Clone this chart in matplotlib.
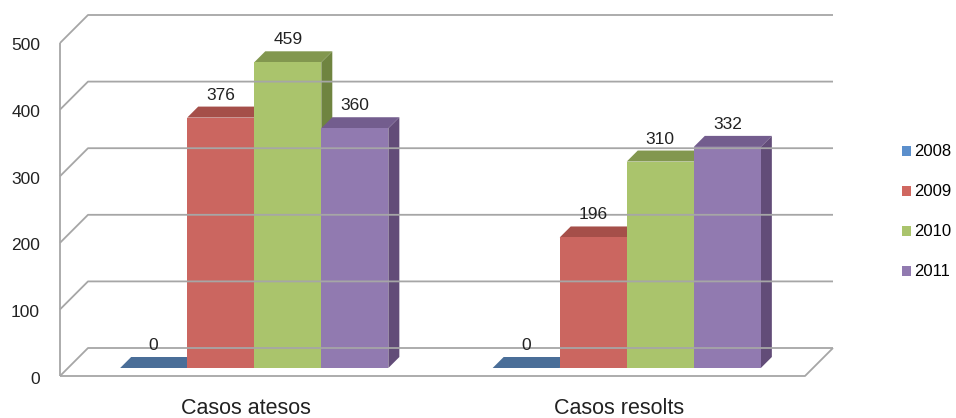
import matplotlib
matplotlib.use("Agg")
from matplotlib import pyplot as plt
from matplotlib.patches import Polygon, Patch

plt.rcParams['font.family'] = ['Liberation Sans', 'DejaVu Sans']

categories = ["Casos atesos", "Casos resolts"]
years = ["2008", "2009", "2010", "2011"]
values = {
    "2008": [0, 0],
    "2009": [376, 196],
    "2010": [459, 310],
    "2011": [360, 332],
}
yticks = [0, 100, 200, 300, 400, 500]

# colours: front, top, side, legend
front_cols = ["#4F7EB3", "#CB6660", "#AAC46C", "#917AB0"]
top_cols = ["#4A6E98", "#A54F49", "#82974F", "#735D8E"]
side_cols = ["#3E5D82", "#8E3F3A", "#6F8440", "#624C78"]
legend_cols = ["#5B8FCC", "#D06760", "#AAC46C", "#917AB0"]

W, H = 956, 418
fig = plt.figure(figsize=(W / 100, H / 100), dpi=100)
# axes = front plane of the 3d box
ax_l, ax_b, ax_w, ax_h = 60, 42, 745, 333
ax = fig.add_axes([ax_l / W, ax_b / H, ax_w / W, ax_h / H])
ax.set_xlim(0, 2)
ax.set_ylim(0, 500)
ax.axis('off')

xu = 2 / ax_w       # x units per pixel
vu = 500 / ax_h     # value units per pixel
depth = 28          # px, box depth
d0, d1 = 8, 19      # bar front / back depth


def proj(x, v, d):
    return (x + d * xu, v + d * vu)


grid_kw = dict(color="#A6A6A6", lw=1.3, solid_capstyle='butt', clip_on=False)

# back wall gridlines + left wall diagonals
for v in yticks:
    pts = [proj(0, v, 0), proj(0, v, depth), proj(2, v, depth)]
    ax.plot([p[0] for p in pts], [p[1] for p in pts], **grid_kw)
    ax.annotate(str(v), proj(0, v, 0), xytext=(-20, -3), textcoords='offset pixels',
                ha='right', va='center', fontsize=12.5, color="#222222")

# left front edge and floor
ax.plot([0, 0], [0, 500], **grid_kw)
pts = [proj(0, 0, 0), proj(2, 0, 0), proj(2, 0, depth)]
ax.plot([p[0] for p in pts], [p[1] for p in pts], **grid_kw)

w = 0.18
centers = [0.5, 1.5]
for gi, c in enumerate(centers):
    for i, yr in enumerate(years):
        v = values[yr][gi]
        x0 = c - 2 * w + i * w
        x1 = x0 + w
        side = [proj(x1, 0, d0), proj(x1, 0, d1), proj(x1, v, d1), proj(x1, v, d0)]
        top = [proj(x0, v, d0), proj(x1, v, d0), proj(x1, v, d1), proj(x0, v, d1)]
        front = [proj(x0, 0, d0), proj(x1, 0, d0), proj(x1, v, d0), proj(x0, v, d0)]
        if v > 0:
            ax.add_patch(Polygon(side, closed=True, fc=side_cols[i], ec='none', clip_on=False))
        ax.add_patch(Polygon(top, closed=True, fc=top_cols[i], ec='none', clip_on=False))
        if v > 0:
            ax.add_patch(Polygon(front, closed=True, fc=front_cols[i], ec='none', clip_on=False))
        lx = proj(x0 + w / 2, v, d0)[0]
        ly = proj(x0, v, d1)[1]
        ax.annotate(str(v), (lx, ly), xytext=(0, 4), textcoords='offset pixels',
                    ha='center', va='bottom', fontsize=12.5, color="#222222")

    ax.annotate(categories[gi], proj(c, 0, 0), xytext=(0, -33), textcoords='offset pixels',
                ha='center', va='center', fontsize=15.5, color="#222222")

handles = [Patch(fc=legend_cols[i], ec='none', label=yr) for i, yr in enumerate(years)]
fig.legend(handles=handles, loc='center left', bbox_to_anchor=(902 / W, (H - 212) / H),
           frameon=False, fontsize=12, handlelength=0.55, handleheight=0.55,
           handletextpad=0.15, labelspacing=1.5, borderaxespad=0, borderpad=0)

fig.savefig("out.png", dpi=100)
